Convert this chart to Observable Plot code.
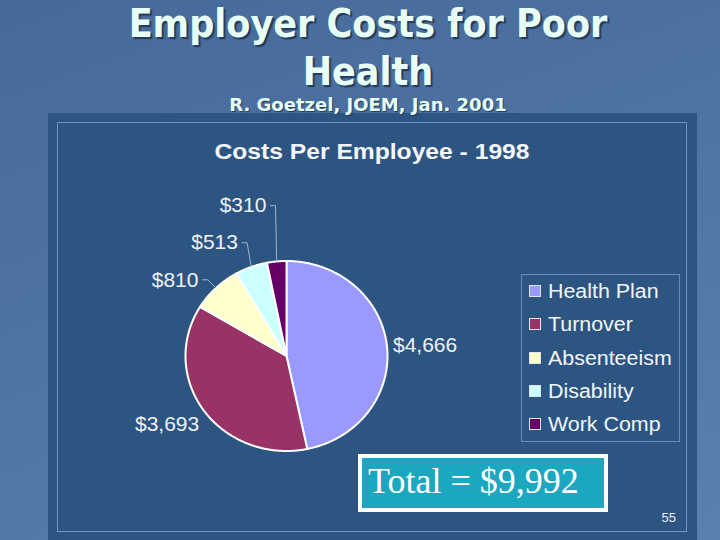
<!DOCTYPE html>
<html>
<head>
<meta charset="utf-8">
<script src="https://cdn.jsdelivr.net/npm/d3@7"></script>
<script src="https://cdn.jsdelivr.net/npm/@observablehq/plot@0.6"></script>
<style>
  html, body { margin: 0; padding: 0; }
  body {
    width: 720px; height: 540px; overflow: hidden; position: relative;
    background: linear-gradient(160deg, #46699a 0%, #4f75a3 50%, #5a80ad 100%);
    font-family: "Liberation Sans", Arial, sans-serif;
  }
  .abs { position: absolute; }
  #title {
    left: 8px; top: 0; width: 720px; text-align: center;
    font-family: "DejaVu Sans Condensed", "DejaVu Sans", sans-serif; font-weight: bold;
    font-size: 39px; line-height: 48px; color: #e8fff6;
    text-shadow: 2px 2px 1px #223a5c;
  }
  #sub {
    left: 8px; top: 95px; width: 720px; text-align: center;
    font-family: "DejaVu Sans", sans-serif; font-weight: bold;
    font-size: 18px; line-height: 20px; color: #e8fff6;
    text-shadow: 1px 1px 1px #223a5c;
  }
  #panel { left: 48px; top: 113px; width: 649px; height: 427px; background: #2c5582; }
  #inner { left: 57px; top: 122px; width: 628px; height: 408px; border: 1px solid #7294c0; }
  #ctitle {
    left: 12px; top: 139px; width: 720px; text-align: center;
    font-weight: bold; font-size: 22px; line-height: 26px; color: #f4f6fa;
    transform: scaleX(1.12);
  }
  #plot { left: 0; top: 0; }
  #legend { left: 521px; top: 274px; width: 157px; height: 166px; border: 1px solid #6a8cb8; }
  .row { position: absolute; left: 0; height: 24px; line-height: 24px; font-size: 20px; color: #f2f5fa; white-space: nowrap; }
  .sw { position: absolute; left: 7px; top: 6px; width: 10px; height: 10px; border: 1px solid #dfe4ee; }
  .lt { position: absolute; left: 26px; top: 0; transform: scaleX(1.07); transform-origin: 0 50%; }
  #total {
    left: 358px; top: 454px; width: 250px; height: 58px; box-sizing: border-box;
    border: 4px solid #ffffff; background: #1ba7bf;
    font-family: "Liberation Serif", "Times New Roman", serif; font-size: 36px; line-height: 46px;
    color: #ffffff; padding-left: 6px; white-space: nowrap;
  }
  #pg { left: 600px; top: 510px; width: 76px; text-align: right; font-size: 13px; line-height: 15px; color: #e8eef8; }
</style>
</head>
<body>
<div id="panel" class="abs"></div>
<div id="inner" class="abs"></div>
<div id="title" class="abs">Employer Costs for Poor<br>Health</div>
<div id="sub" class="abs"></div>
<div id="ctitle" class="abs"></div>
<div id="plot" class="abs"></div>
<div id="legend" class="abs"></div>
<div id="total" class="abs"></div>
<div id="pg" class="abs"></div>
<script>
// ---- data ----
const categories = ["Health Plan", "Turnover", "Absenteeism", "Disability", "Work Comp"];
const costs = [4666, 3693, 810, 513, 310];
const sliceColors = ["#9999ff", "#993366", "#ffffcc", "#ccffff", "#660066"];
const subtitle = "R. Goetzel, JOEM, Jan. 2001";
const chartTitle = "Costs Per Employee - 1998";
const pageNumber = "55";

// ---- texts ----
const fmt = d3.format("$,");
const total = d3.sum(costs);
document.getElementById("sub").textContent = subtitle;
document.getElementById("ctitle").textContent = chartTitle;
document.getElementById("total").textContent = "Total = " + fmt(total);
document.getElementById("pg").textContent = pageNumber;

// ---- legend ----
const legend = document.getElementById("legend");
categories.forEach((c, i) => {
  const row = document.createElement("div");
  row.className = "row";
  row.style.top = (4 + i * 33.3) + "px";
  const sw = document.createElement("div");
  sw.className = "sw"; sw.style.background = sliceColors[i];
  const lt = document.createElement("div");
  lt.className = "lt"; lt.textContent = c;
  row.appendChild(sw); row.appendChild(lt);
  legend.appendChild(row);
});

// ---- pie geometry from data ----
const arcs = d3.pie().sort(null).value(d => d)(costs);
const slicePts = [];
arcs.forEach((a, i) => {
  slicePts.push({x: 0, y: 0, k: i});
  const n = Math.max(2, Math.ceil((a.endAngle - a.startAngle) / 0.01));
  for (let j = 0; j <= n; j++) {
    const t = a.startAngle + (a.endAngle - a.startAngle) * j / n;
    slicePts.push({x: Math.sin(t), y: Math.cos(t), k: i});
  }
  slicePts.push({x: 0, y: 0, k: i});
});

// labels: large slices just outside; small slices stacked upward with leader lines
const labels = [];
const leaders = [];
let prevY = -Infinity;
arcs.forEach((a, i) => {
  const mid = (a.startAngle + a.endAngle) / 2;
  const sx = Math.sin(mid), sy = Math.cos(mid);
  const share = a.value / total;
  if (share >= 0.1) {
    labels.push({
      x: 1.06 * sx, y: 1.09 * sy, text: fmt(a.value),
      anchor: sx >= 0 ? "start" : "end",
      line: Math.abs(sy) < 0.3 ? "middle" : (sy < 0 ? "top" : "bottom")
    });
  } else {
    const ex = 1.12 * sx;
    const ly = Math.max(1.12 * sy, prevY + 0.39);
    prevY = ly;
    leaders.push({x: sx, y: sy, k: i}, {x: ex, y: ly, k: i}, {x: ex - 0.05, y: ly, k: i});
    labels.push({x: ex - 0.09, y: ly, text: fmt(a.value), anchor: "end", line: "middle"});
  }
});

const textStyle = {fontSize: 21, fill: "#eef2f8", fontFamily: "Liberation Sans, Arial, sans-serif"};
const textMarks = [];
for (const anchor of ["start", "end"]) {
  for (const line of ["top", "middle", "bottom"]) {
    const sub = labels.filter(d => d.anchor === anchor && d.line === line);
    if (sub.length) textMarks.push(Plot.text(sub, {x: "x", y: "y", text: "text", textAnchor: anchor, lineAnchor: line, ...textStyle}));
  }
}

const cx = 286, cy = 355.5, rx = 101, ry = 95;
const chart = Plot.plot({
  width: 720, height: 540,
  marginLeft: cx - rx, marginRight: 720 - (cx + rx),
  marginTop: cy - ry, marginBottom: 540 - (cy + ry),
  x: {domain: [-1, 1], axis: null},
  y: {domain: [-1, 1], axis: null},
  style: {background: "none", overflow: "visible"},
  marks: [
    ...categories.map((c, i) => Plot.line(slicePts.filter(d => d.k === i), {
      x: "x", y: "y", fill: sliceColors[i], stroke: "#ffffff", strokeWidth: 2, strokeLinejoin: "round"
    })),
    Plot.line(leaders, {x: "x", y: "y", z: "k", stroke: "#9fb3cf", strokeWidth: 1}),
    ...textMarks
  ]
});
document.getElementById("plot").appendChild(chart);
</script>
</body>
</html>
